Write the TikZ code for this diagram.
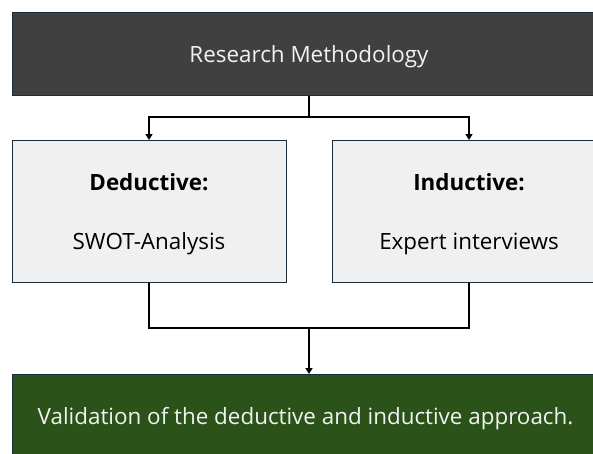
\documentclass[tikz,border=0pt]{standalone}
\usepackage{fontspec}
\setmainfont{Open Sans}
\usetikzlibrary{arrows.meta}

\definecolor{headgray}{HTML}{404040}
\definecolor{boxgray}{HTML}{F0F0F0}
\definecolor{edgeblue}{HTML}{1C2B38}
\definecolor{valgreen}{HTML}{2A5219}
\definecolor{paletext}{HTML}{F2F2F2}

\tikzset{
  darkbox/.style={draw=edgeblue, line width=1.3pt, fill=headgray, anchor=north west, inner sep=0pt},
  greybox/.style={draw=edgeblue, line width=1.3pt, fill=boxgray, anchor=north west, inner sep=0pt},
  greenbox/.style={draw=edgeblue, line width=1.3pt, fill=valgreen, anchor=north west, inner sep=0pt},
  whitelabel/.style={text=paletext, anchor=base, inner sep=0pt, font=\fontsize{22.4}{26}\selectfont},
  blacklabel/.style={text=black, anchor=base, inner sep=0pt, font=\fontsize{22.4}{26}\selectfont},
  headlabel/.style={blacklabel, font=\fontsize{22.4}{26}\selectfont\bfseries},
  link/.style={line width=1.8pt, draw=black, -{Triangle[width=7pt,length=6pt]}},
  plain/.style={line width=1.8pt, draw=black}
}

\begin{document}
\begin{tikzpicture}[x=1pt, y=-1pt]
  \clip (0,0) rectangle (593,453);
  \fill[white] (0,0) rectangle (593,453);

  % top bar
  \node[darkbox, minimum width=640pt, minimum height=83pt] (method) at (12,12) {};
  \node[whitelabel] (methodtxt) at (309,62) {Research Methodology};

  % the two approaches
  \node[greybox, minimum width=274pt, minimum height=142pt] (dedbox) at (12,140) {};
  \node[headlabel] (dedhead) at (149,190) {Deductive:};
  \node[blacklabel] (dedtxt) at (149,249) {SWOT-Analysis};

  \node[greybox, minimum width=320pt, minimum height=142pt] (indbox) at (332,140) {};
  \node[headlabel] (indhead) at (469,190) {Inductive:};
  \node[blacklabel] (indtxt) at (469,249) {Expert interviews};

  % validation bar
  \node[greenbox, minimum width=640pt, minimum height=120pt] (valbox) at (12,374) {};
  \node[whitelabel] (valtxt) at (305.5,424) {Validation of the deductive and inductive approach.};

  % split and merge points
  \coordinate (split) at (309,117);
  \coordinate (merge) at (309,328);

  \draw[plain] (methodtxt |- method.south) -- (split);
  \draw[link] (split) -| (dedbox.north -| dedtxt);
  \draw[link] (split) -| (indbox.north -| indtxt);

  \draw[plain] (dedbox.south -| dedtxt) |- (merge) -| (indbox.south -| indtxt);
  \draw[link] (merge) -- (valbox.north -| merge);
\end{tikzpicture}
\end{document}
